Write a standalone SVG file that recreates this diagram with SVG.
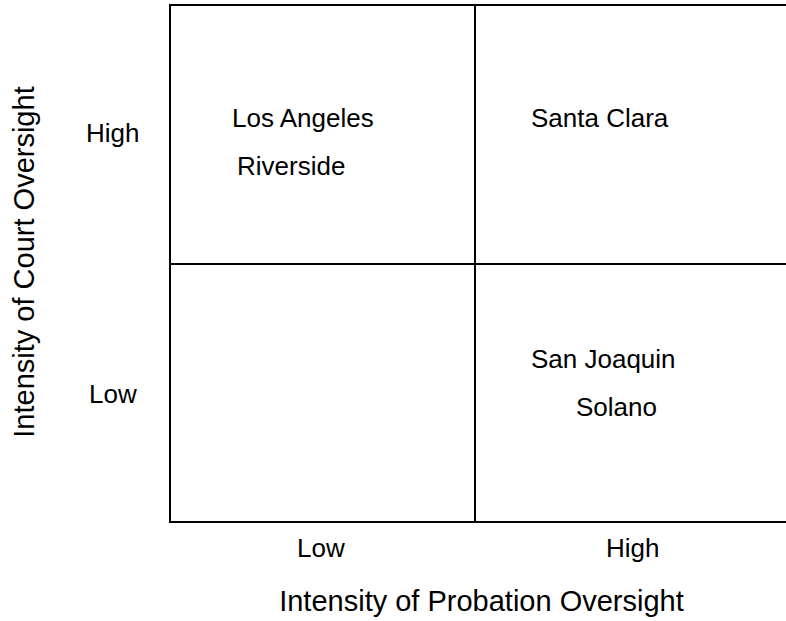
<svg xmlns="http://www.w3.org/2000/svg" width="786" height="621" viewBox="0 0 786 621">
<style>
.ln{stroke:#000;stroke-width:2;fill:none}
.t{font-family:"Liberation Sans",Arial,sans-serif;font-size:26px;fill:#000}
.ax{font-family:"Liberation Sans",Arial,sans-serif;font-size:29px;fill:#000}
</style>
<rect width="786" height="621" fill="#fff"/>
<g id="grid">
<rect class="ln" x="170" y="5" width="640" height="517"/>
<line class="ln" x1="475" y1="5" x2="475" y2="522"/>
<line class="ln" x1="170" y1="264" x2="810" y2="264"/>
</g>
<g id="cell-high-low">
<text class="t" x="232" y="127">Los Angeles</text>
<text class="t" x="237" y="175">Riverside</text>
</g>
<g id="cell-high-high">
<text class="t" x="531" y="127">Santa Clara</text>
</g>
<g id="cell-low-high">
<text class="t" x="531" y="368">San Joaquin</text>
<text class="t" x="576" y="416">Solano</text>
</g>
<g id="y-labels">
<text class="t" x="86" y="142">High</text>
<text class="t" x="89" y="403">Low</text>
</g>
<g id="x-labels">
<text class="t" x="297" y="557">Low</text>
<text class="t" x="606" y="557">High</text>
</g>
<g id="axis-titles">
<text class="ax" x="481.5" y="611" text-anchor="middle">Intensity of Probation Oversight</text>
<text class="ax" transform="translate(34,262) rotate(-90)" text-anchor="middle">Intensity of Court Oversight</text>
</g>
</svg>
